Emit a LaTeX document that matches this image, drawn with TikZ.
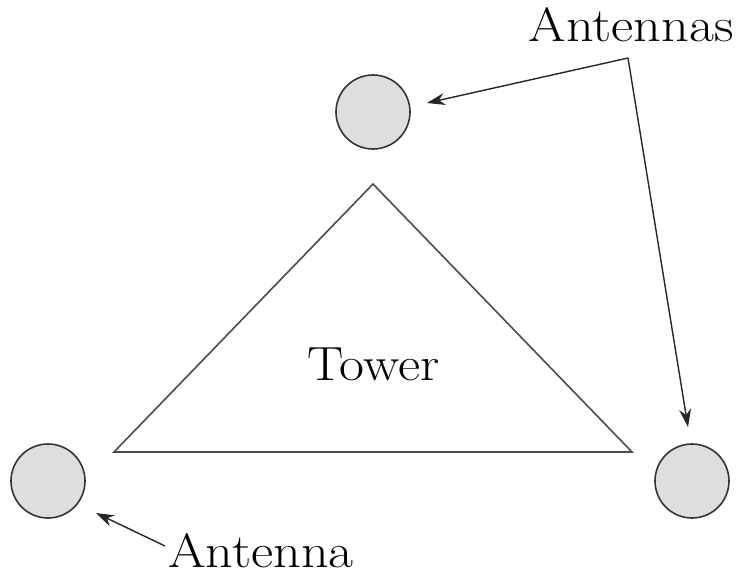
\documentclass[tikz,border=0pt]{standalone}
\usepackage{graphicx}
\usetikzlibrary{arrows.meta}
\newcommand{\widetxt}[1]{\scalebox{1.13}[1]{#1}}
\begin{document}
\begin{tikzpicture}[x=1pt,y=-1pt,
  antenna/.style={circle,draw=black!80,line width=1.6pt,fill=black!13,minimum size=74pt,inner sep=0pt},
  lbl/.style={font=\fontsize{48}{56}\selectfont,anchor=base,inner sep=0pt},
  pointer/.style={draw=black!85,line width=1.4pt,-{Stealth[length=18pt,width=12pt]}},
  towerline/.style={draw=black!70,line width=1.6pt}]
\useasboundingbox (0,0) rectangle (736,575);
\node[antenna] (top) at (373,112) {};
\node[antenna] (left) at (48,481) {};
\node[antenna] (right) at (692,481) {};
\coordinate (apex) at (373,184);
\coordinate (bl) at (114,452);
\coordinate (br) at (632,452);
\draw[towerline] (apex) -- (bl) -- (br) -- cycle;
\node[lbl] (tower) at (373.5,380) {\widetxt{Tower}};
\node[lbl] (ants) at (631,42) {\widetxt{Antennas}};
\node[lbl] (ant) at (261,567) {\widetxt{Antenna}};
\coordinate (corner) at (628,58);
\coordinate (antstart) at (165,546);
\draw[pointer] (corner) -- (427,103);
\draw[pointer] (corner) -- (688,427);
\draw[pointer] (antstart) -- (96,513);
\end{tikzpicture}
\end{document}
